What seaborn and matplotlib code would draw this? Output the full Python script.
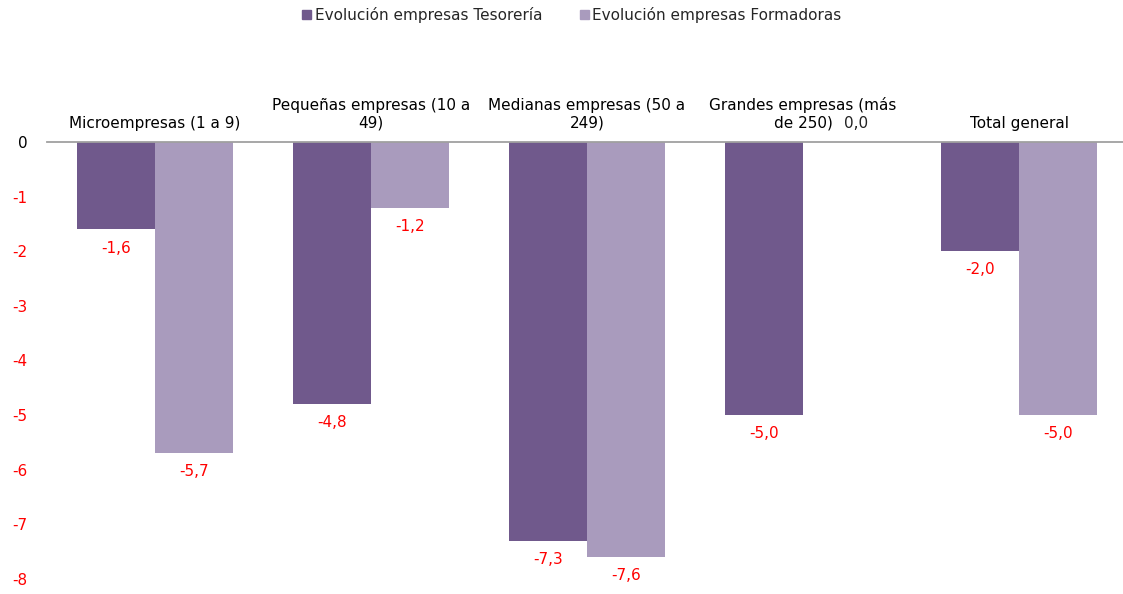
import matplotlib
matplotlib.use("Agg")
import matplotlib.pyplot as plt
import seaborn as sns
import pandas as pd
from matplotlib.patches import Patch

# data
categorias = ["Microempresas (1 a 9)", "Pequeñas empresas (10 a\n49)",
              "Medianas empresas (50 a\n249)", "Grandes empresas (más\nde 250)",
              "Total general"]
series = ["Evolución empresas Tesorería", "Evolución empresas Formadoras"]
tesoreria = [-1.6, -4.8, -7.3, -5.0, -2.0]
formadoras = [-5.7, -1.2, -7.6, 0.0, -5.0]
y_ticks = [0, -1, -2, -3, -4, -5, -6, -7, -8]

df = pd.DataFrame({
    "categoria": categorias * 2,
    "serie": [series[0]] * 5 + [series[1]] * 5,
    "valor": tesoreria + formadoras,
})

sns.set_theme(style="white")
plt.rcParams['font.family'] = ['DejaVu Sans']

fig = plt.figure(figsize=(11.23, 5.94), dpi=100)
ax = fig.add_axes([47 / 1123, 15 / 594, 1080 / 1123, 437 / 594])

colores = ["#70598C", "#A99BBD"]
sns.barplot(data=df, x="categoria", y="valor", hue="serie", order=categorias,
            hue_order=series, palette=colores, width=0.725, gap=0,
            saturation=1, ax=ax, legend=False, edgecolor="none")

for cont, vals in zip(ax.containers, [tesoreria, formadoras]):
    textos = ax.bar_label(cont, labels=[f"{v:.1f}".replace(".", ",") for v in vals],
                          padding=8, color="red", fontsize=11)
    for t, v in zip(textos, vals):
        if v == 0:
            # la etiqueta del cero queda encima, en negro
            t.set_color("#222222")
            t.set_ha("left")
            t.xyann = (1, 8)

ax.set_ylim(-8, 0)
ax.set_xlim(-0.5, 4.5)
ax.set_yticks(y_ticks)
ax.set_yticklabels([str(t) for t in y_ticks], fontsize=11)
for lab, t in zip(ax.get_yticklabels(), y_ticks):
    lab.set_color("black" if t == 0 else "red")

ax.xaxis.tick_top()
ax.set_xticks(range(len(categorias)))
ax.set_xticklabels(categorias, fontsize=11, color="black")
ax.tick_params(axis="x", length=0, pad=8)
ax.tick_params(axis="y", length=0, pad=14)
ax.set_xlabel("")
ax.set_ylabel("")

for s in ["left", "right", "bottom"]:
    ax.spines[s].set_visible(False)
ax.spines["top"].set_color("#A0A0A0")
ax.spines["top"].set_linewidth(1.3)

handles = [Patch(color=c) for c in colores]
fig.legend(handles, series, loc="center", bbox_to_anchor=(572 / 1123, 1 - 15 / 594),
           ncol=2, frameon=False, fontsize=11, handlelength=0.6, handleheight=0.6,
           handletextpad=0.2, columnspacing=2.5)

fig.savefig("out.png", dpi=100)
